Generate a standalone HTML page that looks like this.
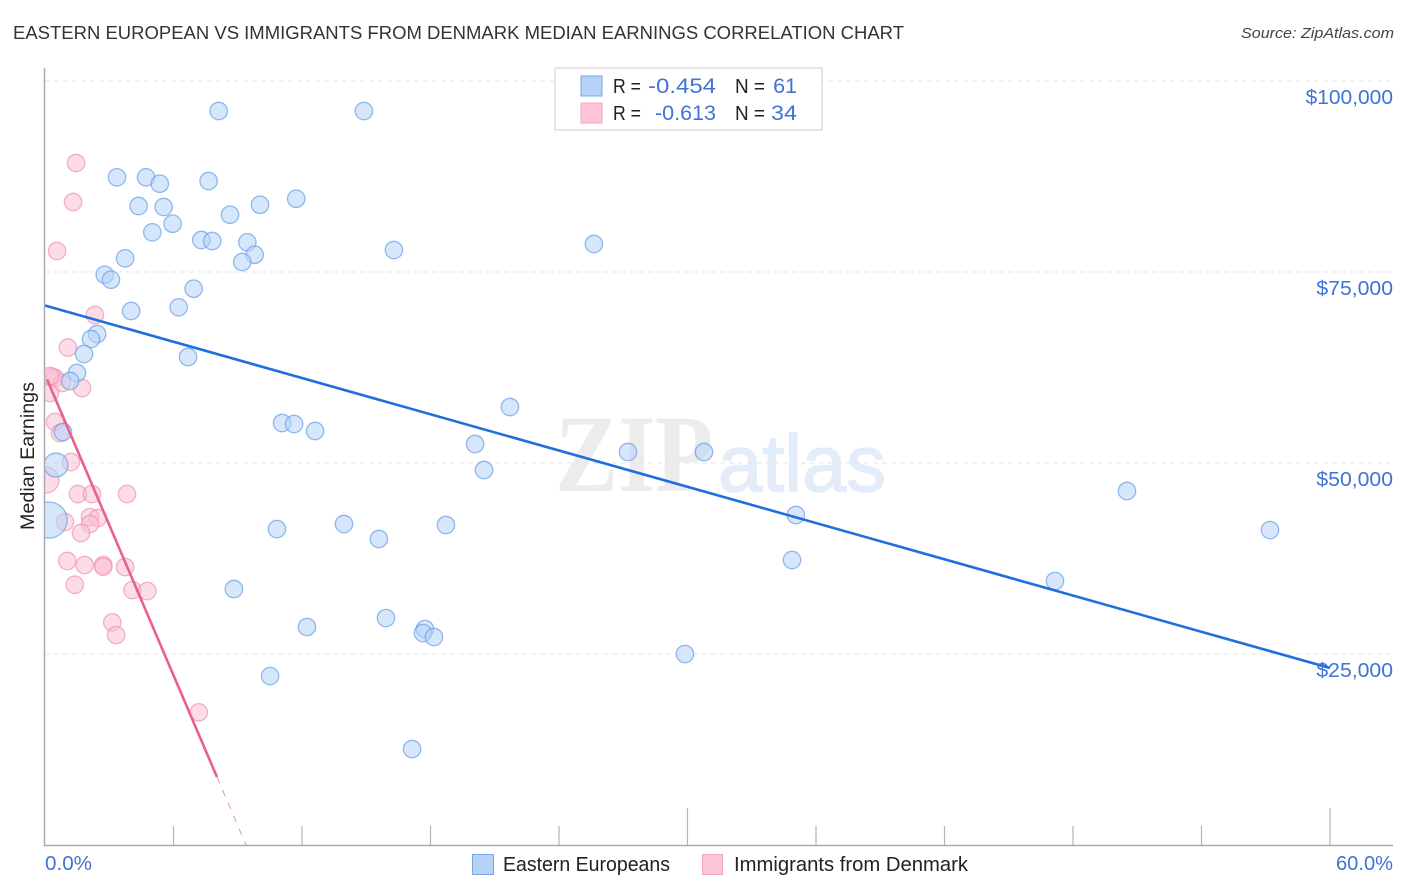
<!DOCTYPE html>
<html>
<head>
<meta charset="utf-8">
<title>Eastern European vs Immigrants from Denmark Median Earnings Correlation Chart</title>
<style>
html,body{margin:0;padding:0;background:#fff;}
svg{display:block;font-family:"Liberation Sans",sans-serif;}
</style>
</head>
<body>
<svg id="chart" xmlns="http://www.w3.org/2000/svg" width="1406" height="892" viewBox="0 0 1406 892">
  <rect x="0" y="0" width="1406" height="892" fill="#ffffff"/>
  <text x="13" y="39" font-size="18.5" fill="#333333" textLength="891" lengthAdjust="spacingAndGlyphs">EASTERN EUROPEAN VS IMMIGRANTS FROM DENMARK MEDIAN EARNINGS CORRELATION CHART</text>
  <text x="1394" y="38" font-size="15" font-style="italic" fill="#444444" text-anchor="end" textLength="153" lengthAdjust="spacingAndGlyphs">Source: ZipAtlas.com</text>
  <g>
    <text x="555" y="491" font-family="'Liberation Serif',serif" font-size="110" font-weight="bold" fill="#ececec" textLength="158" lengthAdjust="spacingAndGlyphs">ZIP</text>
    <text x="718" y="491" font-size="80" fill="#e3ecf9" stroke="#e3ecf9" stroke-width="1.5" textLength="168" lengthAdjust="spacingAndGlyphs">atlas</text>
  </g>
  <defs>
    <clipPath id="plot-clip"><rect x="45" y="60" width="1360" height="785"/></clipPath>
  </defs>
  <g id="grid"></g>
  <g id="points" clip-path="url(#plot-clip)"></g>
  <g id="trends"></g>
  <g id="axes"></g>
  <g id="ylabels"></g>
  <text transform="translate(34,530) rotate(-90)" font-size="19.5" fill="#222222" textLength="148" lengthAdjust="spacingAndGlyphs">Median Earnings</text>
  <text x="45" y="870" font-size="20" fill="#3f73d6" textLength="47" lengthAdjust="spacingAndGlyphs">0.0%</text>
  <text x="1393" y="870" font-size="20" fill="#3f73d6" text-anchor="end" textLength="57" lengthAdjust="spacingAndGlyphs">60.0%</text>

  <g>
    <rect x="555" y="68" width="267" height="62" fill="#ffffff" fill-opacity="0.9" stroke="#dddddd" stroke-width="1.5"/>
    <rect x="581" y="76" width="21" height="20" fill="#b5d3f7" stroke="#7aa6e8" stroke-width="1"/>
    <rect x="581" y="103" width="21" height="20" fill="#fcc5d8" stroke="#f0a8c2" stroke-width="1"/>
    <text x="613" y="93" font-size="20" fill="#222222" textLength="28" lengthAdjust="spacingAndGlyphs">R =</text>
    <text x="716" y="93" font-size="21.5" fill="#3f73d6" text-anchor="end" textLength="68" lengthAdjust="spacingAndGlyphs">-0.454</text>
    <text x="735" y="93" font-size="20" fill="#222222" textLength="30" lengthAdjust="spacingAndGlyphs">N =</text>
    <text x="797" y="93" font-size="21.5" fill="#3f73d6" text-anchor="end">61</text>
    <text x="613" y="120" font-size="20" fill="#222222" textLength="28" lengthAdjust="spacingAndGlyphs">R =</text>
    <text x="716" y="120" font-size="21.5" fill="#3f73d6" text-anchor="end" textLength="61" lengthAdjust="spacingAndGlyphs">-0.613</text>
    <text x="735" y="120" font-size="20" fill="#222222" textLength="30" lengthAdjust="spacingAndGlyphs">N =</text>
    <text x="797" y="120" font-size="21.5" fill="#3f73d6" text-anchor="end" textLength="26" lengthAdjust="spacingAndGlyphs">34</text>
  </g>

  <g>
    <g>
      <rect x="472.5" y="854.5" width="21" height="20" fill="#b5d3f7" stroke="#7aa6e8" stroke-width="1"/>
      <text x="503" y="871" font-size="20" fill="#222222" textLength="167" lengthAdjust="spacingAndGlyphs">Eastern Europeans</text>
    </g>
    <g>
      <rect x="702.5" y="854.5" width="20" height="20" fill="#fcc5d8" stroke="#f0a8c2" stroke-width="1"/>
      <text x="734" y="871" font-size="20" fill="#222222" textLength="234" lengthAdjust="spacingAndGlyphs">Immigrants from Denmark</text>
    </g>
  </g>
</svg>
<script>
const yTickValues = [100000, 75000, 50000, 25000];
const yTickLabels = ["$100,000", "$75,000", "$50,000", "$25,000"];
const xTickValues = [0, 6, 12, 18, 24, 30, 36, 42, 48, 54, 60];

const easternPct = [8.11,14.89,3.36,4.72,5.36,7.64,11.73,4.37,5.54,10.04,8.64,5.96,5.01,7.30,7.81,9.45,16.29,25.63,9.79,9.21,3.74,2.79,3.08,6.94,6.24,4.02,2.43,2.15,1.82,6.68,1.49,1.17,21.71,11.07,11.63,12.61,0.84,20.08,27.22,30.77,0.51,20.50,50.52,35.06,13.96,18.72,10.83,57.20,0.19,15.59,34.88,47.16,8.82,15.92,12.23,17.74,17.65,18.16,29.88,10.51,17.14];
const easternEarnings = [96073,96073,87394,87394,86557,86910,84593,83638,83507,83807,82499,81320,80194,79187,79056,78885,77878,78663,77263,76307,76791,74644,73990,72812,70377,69893,66882,66228,64264,63872,61777,60730,57327,55232,55101,54185,54054,52483,51436,51436,49734,49079,46331,43189,42011,41880,41356,41225,42535,40048,37299,34550,33503,29707,28529,28267,27743,27220,24994,22114,12559];
const easternWeight = [1,1,1,1,1,1,1,1,1,1,1,1,1,1,1,1,1,1,1,1,1,1,1,1,1,1,1,1,1,1,1,1,1,1,1,1,1,1,1,1,1.9,1,1,1,1,1,1,1,4.3,1,1,1,1,1,1,1,1,1,1,1,1];

const denmarkPct = [1.45,1.31,0.56,2.33,1.07,0.33,0.47,0.79,0.23,1.73,0.47,0.70,1.21,0.05,1.54,2.19,3.83,0.93,2.10,2.47,2.10,1.68,1.04,1.85,2.72,2.72,3.74,1.39,4.08,4.78,3.14,3.32,7.18,0.23];
const denmarkEarnings = [89266,84161,77747,69369,65113,61254,61123,60468,59159,59813,55363,53923,50127,47771,45938,45938,45938,42273,42927,42797,42011,40833,37168,36644,36644,36421,36383,34064,33372,33241,29144,27481,17365,61385];
const denmarkWeight = [1,1,1,1,1,1,1,1,1,1,1,1,1,2.2,1,1,1,1,1,1,1,1,1,1,1,1,1,1,1,1,1,1,1,1];

const easternTrendPct = [0, 60];
const easternTrendEarnings = [70612, 23160];
const denmarkSolidPct = [0.1, 8.03];
const denmarkSolidEarnings = [60924, 8894];
const denmarkDashPct = [8.03, 9.39];
const denmarkDashEarnings = [8894, 0];

const NS = "http://www.w3.org/2000/svg";
function xScale(p){ return 45 + p * (1285 / 60); }
function yScale(v){ return 81 + (100000 - v) * (191 / 25000); }
function make(tag, attrs, parent){
  const el = document.createElementNS(NS, tag);
  for (const k in attrs) el.setAttribute(k, attrs[k]);
  parent.appendChild(el);
  return el;
}
const grid = document.getElementById("grid");
const points = document.getElementById("points");
const trends = document.getElementById("trends");
const axes = document.getElementById("axes");
const ylabels = document.getElementById("ylabels");

yTickValues.forEach(function(v, i){
  const line = make("line", {x1:45, x2:1393, y1:yScale(v), y2:yScale(v), stroke:"#e4e4e4", "stroke-width":1, "stroke-dasharray":"5 4"}, grid);
  
  
  const t = make("text", {x:1393, y:yScale(v)+23, "font-size":20, fill:"#3f73d6", "text-anchor":"end", textLength:(yTickLabels[i].length*10.8+1), lengthAdjust:"spacingAndGlyphs"}, ylabels);
  t.textContent = yTickLabels[i];
  
  
});

function drawSeries(xs, ys, ws, fill, stroke, name){
  xs.forEach(function(p, i){
    const c = make("circle", {cx:xScale(p), cy:yScale(ys[i]), r:8.7*Math.sqrt(ws[i]), fill:fill, "fill-opacity":0.55, stroke:stroke, "stroke-opacity":0.7, "stroke-width":1.3}, points);
    
    
  });
}
drawSeries(denmarkPct, denmarkEarnings, denmarkWeight, "#fcc0d4", "#eb94b4", "denmark-point");
drawSeries(easternPct, easternEarnings, easternWeight, "#b5d3f7", "#6a9de6", "eastern-european-point");

const t1 = make("line", {x1:xScale(easternTrendPct[0]), y1:yScale(easternTrendEarnings[0]), x2:xScale(easternTrendPct[1]), y2:yScale(easternTrendEarnings[1]), stroke:"#1f6fdc", "stroke-width":2.6}, trends);


const t2 = make("line", {x1:xScale(denmarkSolidPct[0]), y1:yScale(denmarkSolidEarnings[0]), x2:xScale(denmarkSolidPct[1]), y2:yScale(denmarkSolidEarnings[1]), stroke:"#e8618c", "stroke-width":2.6}, trends);


const t3 = make("line", {x1:xScale(denmarkDashPct[0]), y1:yScale(denmarkDashEarnings[0]), x2:xScale(denmarkDashPct[1]), y2:yScale(denmarkDashEarnings[1]), stroke:"#e8618c", "stroke-width":1, "stroke-opacity":0.7, "stroke-dasharray":"7 7"}, trends);



const leftAxis = make("line", {x1:44.5, x2:44.5, y1:68, y2:846, stroke:"#aaaaaa", "stroke-width":1.5}, axes);


const bottomAxis = make("line", {x1:44, x2:1393, y1:845.5, y2:845.5, stroke:"#aaaaaa", "stroke-width":1.5}, axes);


xTickValues.forEach(function(p){
  if (p === 0) return;
  const major = (p === 30 || p === 60);
  const tick = make("line", {x1:xScale(p), x2:xScale(p), y1:major ? 808 : 826, y2:845, stroke:"#b5b5b5", "stroke-width":1.2}, axes);
  
  
});
</script>
</body>
</html>
